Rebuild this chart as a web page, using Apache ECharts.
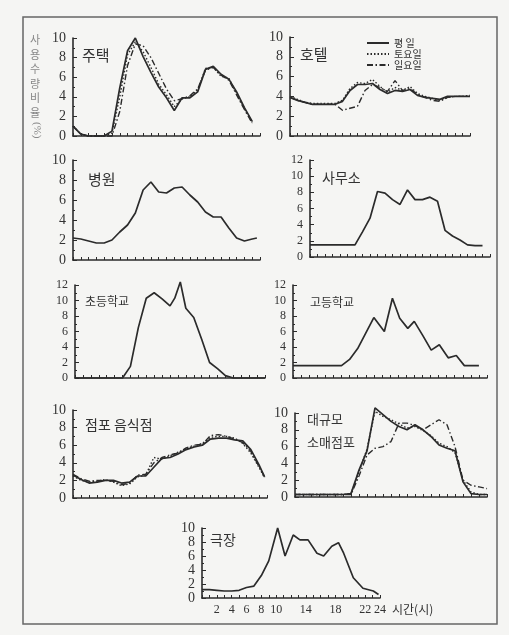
<!DOCTYPE html>
<html><head><meta charset="utf-8">
<script src="https://cdn.jsdelivr.net/npm/echarts/dist/echarts.min.js"></script>
<style>html,body{margin:0;padding:0;background:#f5f5f3}#c{width:509px;height:635px}</style>
</head><body><div id="c"></div><script>
// ---- data (hour of day, usage ratio %) ----
const hours24 = [0,1,2,3,4,5,6,7,8,9,10,11,12,13,14,15,16,17,18,19,20,21,22,23,24];
const hours23 = [0,1,2,3,4,5,6,7,8,9,10,11,12,13,14,15,16,17,18,19,20,21,22,23];

// 주택 (house)
const houseWeekday  = [1.0,0.2,0,0,0,0.5,4.9,8.7,10.0,8.1,6.5,5.0,3.9,2.6,3.9,3.9,4.5,6.8,7.1,6.3,5.8,4.5,2.9,1.5];
const houseSaturday = [1.0,0.2,0,0,0,0.3,4.0,8.3,9.6,8.6,7.0,5.3,4.2,3.0,3.8,4.0,4.7,6.9,7.0,6.1,5.9,4.3,2.8,1.4];
const houseSunday   = [1.0,0.2,0,0,0,0,2.5,7.2,9.4,9.2,8.0,6.4,4.8,3.6,3.8,4.1,4.8,6.7,7.0,6.2,5.7,4.2,2.7,1.3];

// 호텔 (hotel)
const hotelWeekday  = [3.9,3.6,3.4,3.2,3.2,3.2,3.2,3.5,4.6,5.2,5.2,5.3,4.7,4.3,4.6,4.5,4.7,4.1,3.9,3.8,3.7,4.0,4.0,4.0,4.0];
const hotelSaturday = [4.0,3.7,3.4,3.3,3.3,3.3,3.3,3.6,4.8,5.4,5.3,5.7,5.0,4.4,4.9,4.6,5.0,4.3,4.0,3.8,3.6,3.9,4.0,4.0,4.1];
const hotelSunday   = [3.9,3.6,3.4,3.2,3.2,3.2,3.2,2.6,2.8,3.0,4.6,5.2,4.9,4.5,5.6,4.6,4.8,4.2,3.9,3.6,3.5,3.9,4.0,4.0,4.0];

// 병원 (hospital)
const hospitalHours = [0,1,2,3,4,5,6,7,8,9,10,11,12,13,14,15,16,17,18,19,20,21,22,23,23.6];
const hospital      = [2.2,2.1,1.9,1.7,1.7,2.0,2.8,3.5,4.7,7.0,7.8,6.8,6.7,7.2,7.3,6.5,5.8,4.8,4.3,4.3,3.2,2.2,1.9,2.1,2.2];

// 사무소 (office)
const office = [1.5,1.5,1.5,1.5,1.5,1.5,1.5,3.1,4.8,8.1,7.9,7.1,6.5,8.3,7.1,7.1,7.4,6.9,3.3,2.6,2.1,1.5,1.4,1.4];

// 초등학교 (elementary school)
const elemHours = [0,1,2,3,4,5,6,7,8,9,10,11,12,12.6,13.3,14,15,16,17,18,19,20,21,22,23,24];
const elem      = [0,0,0,0,0,0,0,1.5,6.5,10.3,11.0,10.2,9.3,10.3,12.4,9.0,7.8,5.0,2.0,1.2,0.3,0,0,0,0,0];

// 고등학교 (high school)
const highHours = [0,1,2,3,4,5,6,7,8,9,10,11.3,12.3,13.2,14.2,15,16.1,17.1,18.1,19.2,20.2,21.2,22,23];
const high      = [1.6,1.6,1.6,1.6,1.6,1.6,1.6,2.4,3.8,5.8,7.8,6.0,10.3,7.7,6.4,7.3,5.4,3.6,4.3,2.6,2.9,1.6,1.6,1.6];

// 점포 음식점 (store / restaurant)
const shopHours    = [0,1,2,3,4,5,6,7,8,9,10,11,12,13,14,15,16,17,18,19,20,21,22,23,23.7];
const shopWeekday  = [2.6,2.1,1.7,1.8,2.0,2.0,1.7,1.8,2.5,2.5,3.5,4.5,4.6,5.0,5.5,5.8,6.0,6.7,6.8,6.8,6.6,6.5,5.5,3.8,2.4];
const shopSaturday = [2.5,2.0,1.8,1.9,2.1,1.8,1.4,1.6,2.4,2.6,4.6,4.4,4.8,5.2,5.6,5.9,6.2,6.9,7.0,7.0,6.8,6.2,5.1,3.5,2.3];
const shopSunday   = [2.7,2.2,1.9,2.0,2.0,1.9,1.5,1.7,2.6,2.7,4.0,4.6,4.9,5.1,5.7,6.0,6.1,7.1,7.2,7.0,6.7,6.3,5.3,3.6,2.4];

// 대규모 소매점포 (large retail store)
const deptWeekday  = [0.3,0.3,0.3,0.3,0.3,0.3,0.3,0.4,3.2,5.5,10.6,9.8,9.0,8.4,8.0,8.6,8.0,7.2,6.2,5.8,5.5,1.8,0.4,0.3,0.3];
const deptSaturday = [0.3,0.3,0.3,0.3,0.3,0.3,0.3,0.4,3.0,5.7,10.2,9.6,9.2,8.7,8.2,8.4,7.9,7.3,6.4,6.0,5.3,2.0,0.6,0.3,0.3];
const deptSunday   = [0.3,0.3,0.3,0.3,0.3,0.3,0.3,0.3,2.5,5.0,5.8,6.0,6.6,8.8,8.8,8.5,8.0,8.6,9.2,8.6,6.0,2.0,1.4,1.2,1.0];

// 극장 (theatre)
const theatreHours = [0,1,2,3,4,5,6,7,8,9,10.2,11.2,12.3,13.2,14.3,15.5,16.4,17.5,18.4,19.1,20.4,21.7,23.1,23.8];
const theatre      = [1.2,1.2,1.1,1.0,1.0,1.1,1.5,1.7,3.2,5.3,10.0,6.0,9.0,8.3,8.3,6.4,6.0,7.4,7.9,6.4,2.9,1.4,1.0,0.5];

const dayNames = ['평 일','토요일','일요일'];
const xTickLabels = [2,4,6,8,10,14,18,22,24];

// ---- layout ----
const SERIF = '"Liberation Serif","DejaVu Serif","Noto Sans CJK KR",serif';
const KR = '"Noto Sans CJK KR",sans-serif';
const INK = '#2b2b2b';
const styles = [
  {type:'solid', width:1.7},
  {type:[1.5,2], width:1.4},
  {type:[6,2.5,1.5,2.5], width:1.4}
];

const panels = [
  {box:[73,38,187,98], max:10, lines:[[hours23,houseWeekday],[hours23,houseSaturday],[hours23,houseSunday]], label:['주택',82,43,15]},
  {box:[290,37,180,99], max:10, lines:[[hours24,hotelWeekday],[hours24,hotelSaturday],[hours24,hotelSunday]], label:['호텔',300,42,15]},
  {box:[73,160,187,100], max:10, lines:[[hospitalHours,hospital]], label:['병원',88,167,15]},
  {box:[310,160,180,97], max:12, lines:[[hours23,office]], label:['사무소',322,166,14]},
  {box:[75,285,190,93], max:12, lines:[[elemHours,elem]], label:['초등학교',85,290,12]},
  {box:[293,285,194,93], max:12, lines:[[highHours,high]], label:['고등학교',310,291,12]},
  {box:[73,410,194,88], max:10, lines:[[shopHours,shopWeekday],[shopHours,shopSaturday],[shopHours,shopSunday]], label:['점포 음식점',85,413,14]},
  {box:[295,413,192,84], max:10, lines:[[hours24,deptWeekday],[hours24,deptSaturday],[hours24,deptSunday]], label:['대규모\n소매점포',307,408,13]},
  {box:[202,528,178,70], max:10, lines:[[theatreHours,theatre]], label:['극장',210,528,14], xLabels:true}
];

const grid=[], xAxis=[], yAxis=[], series=[], title=[];
panels.forEach((p,i)=>{
  const [l,t,w,h]=p.box;
  grid.push({left:l, top:t, width:w, height:h, containLabel:false});
  xAxis.push({
    type:'value', gridIndex:i, min:0, max:24, interval:1,
    axisLine:{show:true, lineStyle:{color:INK, width:1.6}},
    axisTick:{show:true, inside:true, length:3, lineStyle:{color:INK, width:1}},
    splitLine:{show:false},
    axisLabel:{show:!!p.xLabels, margin:6, color:'#333', fontFamily:SERIF, fontSize:12, hideOverlap:false,
      formatter:v=> xTickLabels.indexOf(v)>=0 ? String(v) : ''}
  });
  yAxis.push({
    type:'value', gridIndex:i, min:0, max:p.max, interval:2,
    axisLine:{show:true, lineStyle:{color:INK, width:1.6}},
    axisTick:{show:true, inside:true, length:4, lineStyle:{color:INK, width:1}},
    minorTick:{show:true, splitNumber:2, length:2, lineStyle:{color:INK}},
    splitLine:{show:false},
    axisLabel:{margin:7, color:'#333', fontFamily:SERIF, fontSize: p.max===12 ? 12 : 14, hideOverlap:false}
  });
  p.lines.forEach((ln,k)=>{
    const [xs,ys]=ln;
    series.push({
      type:'line', name: p.lines.length>1 ? dayNames[k] : p.label[0],
      xAxisIndex:i, yAxisIndex:i, symbol:'none', smooth:false, clip:false,
      data: xs.map((x,j)=>[x,ys[j]]),
      lineStyle:{color:INK, width:styles[k].width, type:styles[k].type},
      itemStyle:{color:INK}, z: 3-k
    });
  });
  title.push({text:p.label[0], left:p.label[1], top:p.label[2], padding:0,
    textStyle:{fontFamily:KR, fontSize:p.label[3], fontWeight:'normal', color:'#333', lineHeight:p.label[3]+10}});
});

const chart = echarts.init(document.getElementById('c'), null, {renderer:'canvas'});
chart.setOption({
  backgroundColor:'#f5f5f3',
  animation:false,
  title, grid, xAxis, yAxis, series,
  legend:{
    data: dayNames, orient:'vertical', left:366, top:38, itemGap:1, padding:0,
    itemWidth:22, itemHeight:8,
    itemStyle:{color:'rgba(0,0,0,0)', borderWidth:0, opacity:0},
    textStyle:{fontFamily:KR, fontSize:10, color:'#333'},
    selectedMode:false
  },
  graphic:[
    {type:'rect', shape:{x:23, y:17, width:474, height:607}, style:{fill:'none', stroke:'#666', lineWidth:1.5}, silent:true},
    {type:'text', left:30, top:33, style:{text:'사\n용\n수\n량\n비\n율', fontFamily:KR, fontSize:11, lineHeight:14.5, fill:'#888'}},
    {type:'text', x:42, y:122, rotation:-Math.PI/2, style:{text:'(%)', fontFamily:SERIF, fontSize:11, fill:'#888'}},
    {type:'text', left:392, top:603, style:{text:'시간(시)', fontFamily:KR, fontSize:12, fill:'#333'}}
  ]
});
</script></body></html>
